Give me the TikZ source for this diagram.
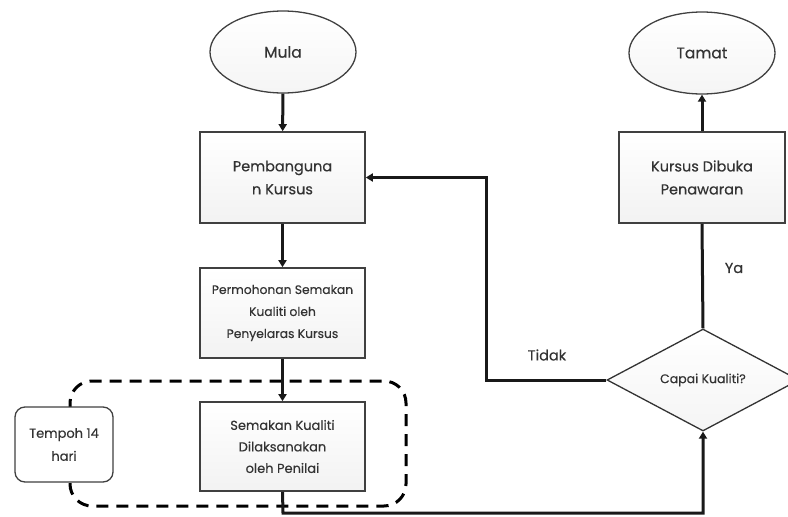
\documentclass[tikz,border=0pt]{standalone}
\usepackage{fontspec}
\setmainfont{Poppins}[FakeBold=0.35]
\usetikzlibrary{shapes.geometric,arrows.meta}
\begin{document}
\begin{tikzpicture}[x=1pt,y=-1pt,
  every node/.style={text=black!80},
  term/.style={ellipse,draw=black!75,line width=1.3pt,minimum width=146pt,minimum height=82pt,font=\fontsize{15.5}{18}\selectfont,top color=white,bottom color=black!4},
  proc/.style={rectangle,draw=black!75,line width=1.6pt,minimum width=165pt,minimum height=91pt,align=center,top color=white,bottom color=black!5},
  dec/.style={diamond,draw=black!80,line width=1.3pt,minimum width=192pt,minimum height=102pt,aspect=1.88,inner sep=0pt,font=\fontsize{12.5}{14}\selectfont,top color=white,bottom color=black!4},
  conn/.style={line width=3pt,black!90},
  tip/.style={-{Triangle[length=7pt,width=8pt]}},
  lbl/.style={font=\fontsize{14.5}{17}\selectfont}
]
\useasboundingbox (0,0) rectangle (788,517);
\node[term] (mula) at (283,52) {Mula};
\node[proc,font=\fontsize{14.5}{23}\selectfont] (pemb) at (282.5,177.5) {Pembanguna\\n Kursus};
\node[proc,minimum height=90pt,font=\fontsize{12.3}{22}\selectfont] (mohon) at (282.5,313) {Permohonan Semakan\\Kualiti oleh\\Penyelaras Kursus};
\node[proc,minimum height=89pt,font=\fontsize{13}{21.5}\selectfont] (semak) at (282.5,446.5) {Semakan Kualiti\\Dilaksanakan\\oleh Penilai};
\draw[dashed,line width=3pt,dash pattern=on 12pt off 8pt,rounded corners=22pt] (70,381) rectangle (406,506);
\node[rectangle,rounded corners=10pt,draw=black!75,line width=1.3pt,fill=white,minimum width=98pt,minimum height=75pt,align=center,font=\fontsize{13}{23}\selectfont] (tempoh) at (64,444.5) {Tempoh 14\\hari};
\node[term] (tamat) at (702,53) {Tamat};
\node[proc,font=\fontsize{14.5}{23}\selectfont,minimum width=166pt] (kursus) at (702,177.5) {Kursus Dibuka\\Penawaran};
\node[dec] (capai) at (703,380) {Capai Kualiti?};
\coordinate (b1) at (283,513);
\coordinate (b2) at (703,513);
\coordinate (t1) at (486,380);
\coordinate (t2) at (486,177.5);
\draw[conn,tip] (mula) -- (pemb);
\draw[conn,tip] (pemb) -- (mohon);
\draw[conn,tip] (mohon) -- (semak);
\draw[conn,tip] (semak.south) -- (b1) -- (b2) -- (capai.south);
\draw[conn] (capai.north) -- (kursus.south);
\draw[conn,tip] (kursus) -- (tamat);
\draw[conn,tip] (capai.west) -- (t1) -- (t2) -- (pemb.east);
\node[lbl] (tidak) at (547,355) {Tidak};
\node[lbl] (ya) at (734,268) {Ya};
\end{tikzpicture}
\end{document}
